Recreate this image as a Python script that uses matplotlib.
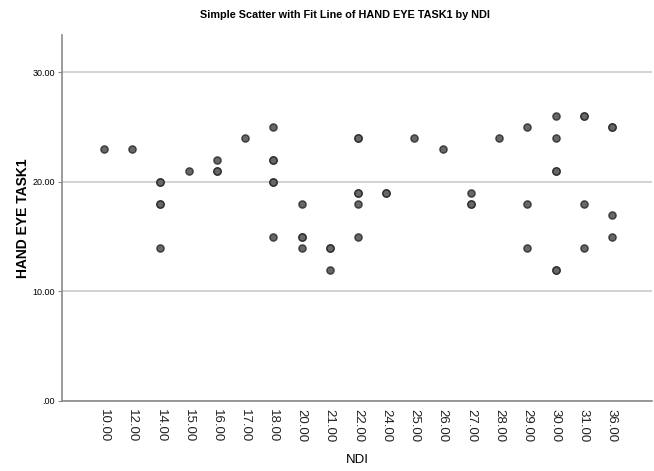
import matplotlib
matplotlib.use("Agg")
import matplotlib.pyplot as plt
from matplotlib import font_manager

names = {f.name for f in font_manager.fontManager.ttflist}
narrow = 'Liberation Sans Narrow' if 'Liberation Sans Narrow' in names else None

categories = ["10.00", "12.00", "14.00", "15.00", "16.00", "17.00", "18.00", "20.00",
              "21.00", "22.00", "24.00", "25.00", "26.00", "27.00", "28.00", "29.00",
              "30.00", "31.00", "36.00"]
hand_eye = [
    [23],
    [23],
    [20, 20, 18, 18, 14],
    [21],
    [22, 21, 21],
    [24],
    [25, 22, 22, 20, 20, 15],
    [18, 15, 15, 14],
    [14, 14, 12],
    [24, 24, 19, 19, 18, 15],
    [19, 19],
    [24],
    [23],
    [19, 18, 18],
    [24],
    [25, 18, 14],
    [26, 24, 21, 21, 12, 12],
    [26, 26, 18, 14],
    [25, 25, 17, 15],
]
y_ticks = [0, 10, 20, 30]
y_tick_labels = [".00", "10.00", "20.00", "30.00"]

xs, ys = [], []
for i, vals in enumerate(hand_eye):
    for v in vals:
        xs.append(i)
        ys.append(v)

fig = plt.figure(figsize=(6.54, 4.71), dpi=100)
ax = fig.add_axes([62/654, 70/471, 590/654, 366/471])

ax.scatter(xs, ys, s=27, facecolor='#676767', edgecolor=(0.1, 0.1, 0.1, 0.75),
           linewidths=1.0, zorder=3)

ax.set_xlim(-1.49, len(categories) + 0.42)
ax.set_ylim(0, 33.4)
ax.set_yticks(y_ticks)
if narrow:
    ax.set_yticklabels(y_tick_labels, family=narrow, fontsize=7.5)
else:
    ax.set_yticklabels(y_tick_labels, family='Liberation Sans', fontsize=6.5)
ax.set_xticks(range(len(categories)))
ax.set_xticklabels(categories, rotation=-90, family='Liberation Sans', fontsize=9.5,
                   color='#222222')
ax.tick_params(axis='x', length=0, pad=6)
ax.tick_params(axis='y', length=3, width=0.8, color='#888888', pad=2)

ax.yaxis.grid(True, color='#cfcfcf', linewidth=1.3, zorder=0)
ax.set_axisbelow(True)
for s in ['top', 'right']:
    ax.spines[s].set_visible(False)
for s in ['left', 'bottom']:
    ax.spines[s].set_color('#8a8a8a')
    ax.spines[s].set_linewidth(1.2)

if narrow:
    ax.set_xlabel("NDI", family=narrow, fontsize=10, labelpad=8)
else:
    ax.set_xlabel("NDI", family='Liberation Sans', fontsize=9.5, labelpad=8)
ax.set_ylabel("HAND EYE TASK1", family='Liberation Sans', fontweight='bold',
              fontsize=10)
ax.yaxis.set_label_coords(-32/590, 0.5)
title = "Simple Scatter with Fit Line of HAND EYE TASK1 by NDI"
if narrow:
    fig.text(345/654, 1 - 15/471, title, ha='center', va='center', family=narrow,
             fontweight='bold', fontsize=9)
else:
    fig.text(345/654, 1 - 15/471, title, ha='center', va='center',
             family='Liberation Sans', fontweight='bold', fontsize=7.8)

fig.savefig("out.png", dpi=100)
